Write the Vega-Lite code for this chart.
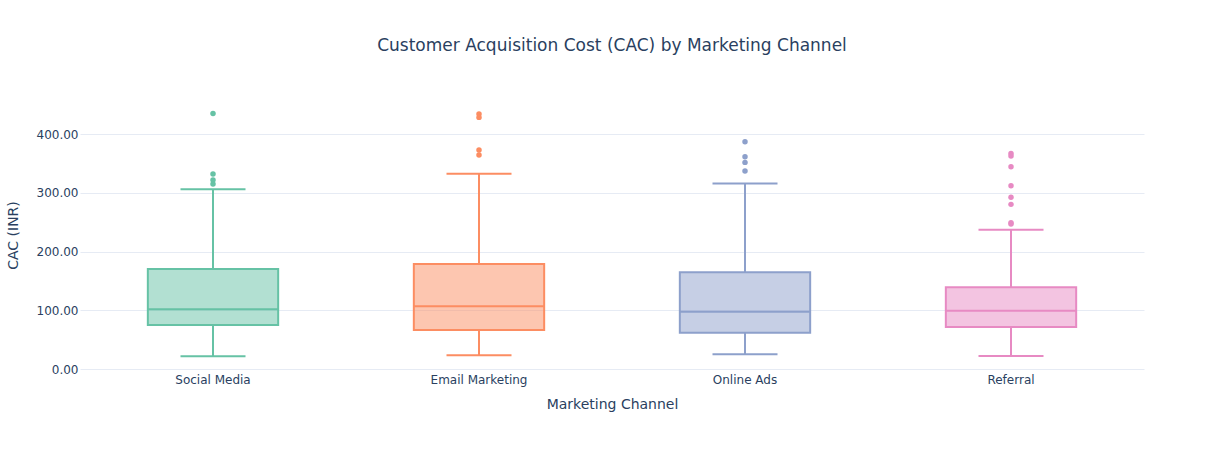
{
  "$schema": "https://vega.github.io/schema/vega-lite/v6.json",
  "width": 1064,
  "height": 270,
  "autosize": {"type": "none"},
  "padding": {"left": 80, "top": 100, "right": 80, "bottom": 80},
  "background": "white",
  "config": {
    "view": {"stroke": null},
    "font": "DejaVu Sans"
  },
  "title": {
    "text": "Customer Acquisition Cost (CAC) by Marketing Channel",
    "fontSize": 17,
    "fontWeight": "normal",
    "color": "#2a3f5f",
    "anchor": "middle",
    "baseline": "alphabetic",
    "offset": 32,
    "font": "DejaVu Sans"
  },
  "datasets": {
    "stats": [
      {"channel": "Social Media", "lower": 21.6, "q1": 74.9, "median": 101.6, "q3": 170.2, "upper": 305.9},
      {"channel": "Email Marketing", "lower": 23.3, "q1": 66.4, "median": 106.7, "q3": 178.7, "upper": 332.4},
      {"channel": "Online Ads", "lower": 25.0, "q1": 61.8, "median": 97.6, "q3": 164.6, "upper": 316.0},
      {"channel": "Referral", "lower": 22.1, "q1": 71.5, "median": 99.3, "q3": 139.0, "upper": 237.2}
    ],
    "outliers": [
      {"channel": "Social Media", "cac": 435.2},
      {"channel": "Social Media", "cac": 331.9},
      {"channel": "Social Media", "cac": 321.7},
      {"channel": "Social Media", "cac": 314.9},
      {"channel": "Email Marketing", "cac": 434.0},
      {"channel": "Email Marketing", "cac": 428.4},
      {"channel": "Email Marketing", "cac": 372.8},
      {"channel": "Email Marketing", "cac": 364.3},
      {"channel": "Online Ads", "cac": 386.9},
      {"channel": "Online Ads", "cac": 361.4},
      {"channel": "Online Ads", "cac": 351.8},
      {"channel": "Online Ads", "cac": 337.0},
      {"channel": "Referral", "cac": 367.1},
      {"channel": "Referral", "cac": 362.6},
      {"channel": "Referral", "cac": 344.4},
      {"channel": "Referral", "cac": 312.0},
      {"channel": "Referral", "cac": 292.3},
      {"channel": "Referral", "cac": 280.3},
      {"channel": "Referral", "cac": 249.0},
      {"channel": "Referral", "cac": 247.0}
    ]
  },
  "encoding": {
    "x": {
      "field": "channel",
      "type": "nominal",
      "sort": ["Social Media", "Email Marketing", "Online Ads", "Referral"],
      "scale": {"paddingInner": 0, "paddingOuter": 0},
      "axis": {
        "title": "Marketing Channel",
        "labelAngle": 0,
        "labelFontSize": 12,
        "labelColor": "#2a3f5f",
        "labelFont": "DejaVu Sans",
        "labelPadding": 4,
        "ticks": false,
        "domain": false,
        "grid": false,
        "titleFontSize": 14,
        "titleFontWeight": "normal",
        "titleColor": "#2a3f5f",
        "titleFont": "DejaVu Sans",
        "titlePadding": 12
      }
    }
  },
  "layer": [
    {
      "data": {"name": "stats"},
      "mark": {"type": "rule", "strokeWidth": 2},
      "encoding": {
        "y": {
          "field": "lower",
          "type": "quantitative",
          "scale": {"domain": [-1.7, 458], "nice": false, "zero": false},
          "axis": {
            "title": "CAC (INR)",
            "values": [0, 100, 200, 300, 400],
            "format": ".2f",
            "labelFontSize": 12,
            "labelColor": "#2a3f5f",
            "labelFont": "DejaVu Sans",
            "labelPadding": 2,
            "ticks": false,
            "domain": false,
            "grid": true,
            "gridColor": "#E6EBF4",
            "gridWidth": 1,
            "gridOpacity": 1,
            "titleFontSize": 14,
            "titleFontWeight": "normal",
            "titleColor": "#2a3f5f",
            "titleFont": "DejaVu Sans",
            "titlePadding": 16
          }
        },
        "y2": {"field": "q1"},
        "color": {"field": "channel", "type": "nominal", "legend": null,
          "scale": {"domain": ["Social Media", "Email Marketing", "Online Ads", "Referral"], "range": ["#66c2a5", "#fc8d62", "#8da0cb", "#e78ac3"]}}
      }
    },
    {
      "mark": {"type": "rule", "color": "#E6EBF4", "strokeWidth": 2},
      "encoding": {"y": {"datum": 0, "type": "quantitative"}, "x": null}
    },
    {
      "data": {"name": "stats"},
      "mark": {"type": "rule", "strokeWidth": 2},
      "encoding": {
        "y": {"field": "q3", "type": "quantitative"},
        "y2": {"field": "upper"},
        "color": {"field": "channel", "type": "nominal", "legend": null}
      }
    },
    {
      "data": {"name": "stats"},
      "mark": {"type": "bar", "width": {"band": 0.49}, "fillOpacity": 0.5, "strokeWidth": 2},
      "encoding": {
        "y": {"field": "q1", "type": "quantitative"},
        "y2": {"field": "q3"},
        "color": {"field": "channel", "type": "nominal", "legend": null},
        "stroke": {"field": "channel", "type": "nominal", "legend": null, "scale": {"domain": ["Social Media", "Email Marketing", "Online Ads", "Referral"], "range": ["#66c2a5", "#fc8d62", "#8da0cb", "#e78ac3"]}}
      }
    },
    {
      "data": {"name": "stats"},
      "mark": {"type": "tick", "size": 131, "thickness": 2, "opacity": 1},
      "encoding": {
        "y": {"field": "median", "type": "quantitative"},
        "color": {"field": "channel", "type": "nominal", "legend": null}
      }
    },
    {
      "data": {"name": "stats"},
      "mark": {"type": "tick", "size": 65, "thickness": 2, "opacity": 1},
      "encoding": {
        "y": {"field": "lower", "type": "quantitative"},
        "color": {"field": "channel", "type": "nominal", "legend": null}
      }
    },
    {
      "data": {"name": "stats"},
      "mark": {"type": "tick", "size": 65, "thickness": 2, "opacity": 1},
      "encoding": {
        "y": {"field": "upper", "type": "quantitative"},
        "color": {"field": "channel", "type": "nominal", "legend": null}
      }
    },
    {
      "data": {"name": "outliers"},
      "mark": {"type": "point", "filled": true, "size": 30, "opacity": 1},
      "encoding": {
        "y": {"field": "cac", "type": "quantitative"},
        "color": {"field": "channel", "type": "nominal", "legend": null}
      }
    }
  ]
}
